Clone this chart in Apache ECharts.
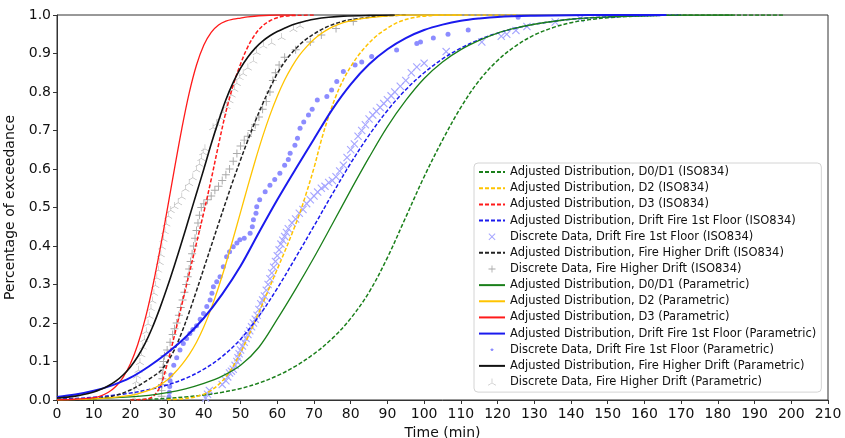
<!DOCTYPE html>
<html>
<head>
<meta charset="utf-8">
<script src="https://cdn.jsdelivr.net/npm/echarts@6/dist/echarts.min.js"></script>
<style>
  html, body { margin: 0; padding: 0; background: #fff; }
  #chart { width: 845px; height: 438px; }
</style>
</head>
<body>
<div id="chart"></div>
<script>
// ---- axis ticks ----
const xTicks = { min: 0, max: 210, step: 10 };
const yTicks = { min: 0, max: 1, step: 0.1 };

// ---- adjusted distributions (time in min, fraction exceeded) ----
const d01IsoT = [20, 25, 30, 35, 40, 45, 50, 55, 60, 65, 70, 75, 80, 85, 90, 95, 100, 105, 110, 115, 120, 125, 130, 135, 140, 145, 150, 155, 160, 170, 198];
const d01IsoV = [0, 0.002, 0.004, 0.008, 0.013, 0.02, 0.03, 0.044, 0.063, 0.088, 0.12, 0.16, 0.212, 0.28, 0.37, 0.475, 0.58, 0.675, 0.76, 0.83, 0.882, 0.92, 0.948, 0.967, 0.98, 0.988, 0.993, 0.996, 0.998, 1, 1];

const d2IsoT = [30, 36, 40, 42, 44, 46, 48, 50, 52, 54, 56, 58, 60, 62, 64, 66, 68, 70, 72, 74, 76, 78, 80, 82, 84, 86, 88, 90, 92, 94, 96, 100, 105, 125];
const d2IsoV = [0.001, 0.005, 0.015, 0.025, 0.04, 0.06, 0.088, 0.123, 0.163, 0.206, 0.25, 0.295, 0.34, 0.385, 0.432, 0.482, 0.54, 0.603, 0.675, 0.737, 0.79, 0.832, 0.866, 0.894, 0.917, 0.937, 0.953, 0.966, 0.977, 0.985, 0.991, 0.997, 1, 1];

const d3IsoT = [20, 24, 26, 28, 30, 32, 34, 36, 38, 40, 42, 44, 46, 48, 50, 52, 54, 56, 58, 60, 62, 65, 70];
const d3IsoV = [0, 0.002, 0.008, 0.033, 0.093, 0.168, 0.248, 0.328, 0.408, 0.488, 0.573, 0.663, 0.748, 0.818, 0.873, 0.918, 0.95, 0.972, 0.985, 0.993, 0.997, 0.999, 1];

const driftIsoT = [0, 5, 10, 15, 20, 25, 30, 35, 40, 45, 50, 55, 60, 65, 70, 75, 80, 85, 90, 95, 100, 105, 110, 115, 120, 125, 130, 140, 150, 160, 170];
const driftIsoV = [0.002, 0.004, 0.007, 0.012, 0.018, 0.027, 0.039, 0.056, 0.08, 0.113, 0.158, 0.218, 0.29, 0.37, 0.452, 0.535, 0.615, 0.688, 0.752, 0.806, 0.85, 0.886, 0.914, 0.936, 0.953, 0.966, 0.976, 0.989, 0.995, 0.998, 1];

const higherIsoT = [0, 5, 10, 12, 14, 16, 18, 20, 22, 24, 26, 28, 30, 32, 34, 36, 38, 40, 42, 44, 46, 48, 50, 52, 54, 56, 58, 60, 62, 64, 66, 68, 70, 72, 74, 76, 78, 80, 84, 88, 95];
const higherIsoV = [0.0005, 0.001, 0.003, 0.005, 0.008, 0.012, 0.018, 0.026, 0.036, 0.048, 0.06, 0.074, 0.098, 0.131, 0.176, 0.228, 0.284, 0.342, 0.4, 0.458, 0.515, 0.571, 0.624, 0.675, 0.724, 0.769, 0.81, 0.848, 0.878, 0.902, 0.922, 0.938, 0.951, 0.962, 0.971, 0.978, 0.984, 0.988, 0.993, 0.997, 1];

const d01ParT = [0, 10, 20, 25, 30, 35, 40, 45, 50, 55, 60, 65, 70, 75, 80, 85, 90, 95, 100, 105, 110, 115, 120, 125, 130, 140, 150, 160, 170, 184];
const d01ParV = [0.0005, 0.003, 0.008, 0.012, 0.019, 0.029, 0.043, 0.062, 0.09, 0.137, 0.21, 0.288, 0.37, 0.457, 0.545, 0.63, 0.71, 0.778, 0.835, 0.878, 0.91, 0.934, 0.953, 0.966, 0.976, 0.989, 0.995, 0.998, 0.9995, 1];

const d2ParT = [0, 10, 15, 20, 22, 24, 26, 28, 30, 32, 34, 36, 38, 40, 42, 44, 46, 48, 50, 52, 54, 56, 58, 60, 62, 64, 66, 68, 70, 72, 74, 76, 78, 80, 84, 88, 95, 110];
const d2ParV = [0.0005, 0.003, 0.006, 0.012, 0.016, 0.022, 0.029, 0.039, 0.052, 0.07, 0.092, 0.118, 0.15, 0.19, 0.238, 0.293, 0.354, 0.42, 0.488, 0.556, 0.622, 0.684, 0.74, 0.789, 0.831, 0.866, 0.895, 0.918, 0.937, 0.952, 0.964, 0.973, 0.98, 0.985, 0.992, 0.996, 1, 1];

const d3ParT = [0, 5, 10, 12, 14, 16, 18, 20, 22, 24, 26, 28, 30, 32, 34, 36, 38, 40, 42, 44, 46, 48, 50, 52, 55, 60, 65];
const d3ParV = [0.0005, 0.002, 0.006, 0.011, 0.02, 0.035, 0.059, 0.094, 0.144, 0.21, 0.292, 0.388, 0.493, 0.601, 0.705, 0.797, 0.87, 0.922, 0.955, 0.974, 0.984, 0.989, 0.992, 0.995, 0.998, 1, 1];

const driftParT = [0, 5, 10, 15, 20, 25, 30, 35, 40, 45, 50, 55, 60, 65, 70, 75, 80, 85, 90, 95, 100, 105, 110, 115, 120, 130, 140, 150, 166];
const driftParV = [0.008, 0.014, 0.024, 0.038, 0.058, 0.087, 0.122, 0.163, 0.213, 0.275, 0.348, 0.435, 0.52, 0.6, 0.678, 0.755, 0.82, 0.872, 0.911, 0.94, 0.961, 0.975, 0.985, 0.991, 0.995, 0.998, 0.9995, 1, 1];

const higherParT = [0, 5, 10, 12, 14, 16, 18, 20, 22, 24, 26, 28, 30, 32, 34, 36, 38, 40, 42, 44, 46, 48, 50, 52, 54, 56, 58, 60, 62, 64, 66, 68, 70, 74, 78, 85, 92];
const higherParV = [0.005, 0.01, 0.021, 0.028, 0.037, 0.049, 0.065, 0.086, 0.113, 0.147, 0.189, 0.238, 0.292, 0.35, 0.411, 0.474, 0.537, 0.6, 0.665, 0.725, 0.78, 0.825, 0.862, 0.891, 0.914, 0.932, 0.946, 0.957, 0.966, 0.974, 0.98, 0.985, 0.989, 0.994, 0.997, 0.999, 1];

// ---- discrete observations [time, fraction] ----
const driftIsoPts = [
  [40.5,0.005],[41,0.015],[41.5,0.025],[45,0.04],[46,0.05],[46.5,0.06],[47,0.07],[47.5,0.075],[48,0.08],[48.5,0.09],
  [49,0.1],[49.3,0.11],[49.6,0.12],[50,0.13],[50.5,0.14],[51,0.15],[51.5,0.16],[52,0.17],[52.5,0.18],[53,0.19],
  [53.5,0.2],[54,0.21],[54.5,0.22],[55,0.235],[55.5,0.25],[56,0.26],[56.5,0.27],[57,0.285],[57.5,0.3],[58,0.315],
  [58.5,0.33],[59,0.345],[59.5,0.36],[60,0.375],[60.5,0.39],[61,0.405],[61.5,0.415],[62,0.425],[62.5,0.435],[63,0.445],
  [64,0.46],[65,0.47],[66,0.485],[67,0.495],[68,0.51],[69,0.52],[70,0.53],[71,0.54],[72,0.55],[73,0.555],
  [74,0.565],[75,0.57],[76,0.58],[77,0.595],[78,0.61],[79,0.63],[80,0.65],[81,0.665],[82,0.685],[83,0.7],
  [84,0.715],[85,0.73],[86,0.74],[87,0.75],[88,0.76],[89,0.77],[90,0.78],[91,0.79],[92,0.8],[93.5,0.815],
  [95,0.83],[96.5,0.85],[98,0.865],[100,0.875],[106,0.905],[115.7,0.93],[121,0.945],[122.5,0.95],[125,0.96],[128,0.97],
  [135.7,0.982],[142.5,0.991]
];

const driftParPts = [
  [30.5,0.008],[30.6,0.02],[30.7,0.035],[30.8,0.05],[31,0.065],[31.8,0.09],[32.6,0.11],[33.5,0.13],[34.4,0.147],[35.3,0.16],
  [36.2,0.173],[37,0.183],[38,0.193],[39,0.21],[39.9,0.225],[40.8,0.243],[41.7,0.26],[42.2,0.277],[42.6,0.294],[43.5,0.307],
  [44.4,0.32],[45.3,0.346],[46.2,0.372],[47,0.385],[48,0.398],[49,0.408],[49.8,0.416],[51,0.42],[52.6,0.433],[53.2,0.45],
  [53.5,0.468],[54.2,0.485],[54.4,0.502],[55.2,0.52],[56.7,0.541],[58,0.558],[59.3,0.573],[60.7,0.589],[62,0.61],[63,0.625],
  [63.5,0.641],[64.8,0.662],[65.5,0.68],[66.2,0.706],[67.2,0.722],[68.5,0.74],[69.5,0.755],[70.9,0.779],[73.5,0.788],[74.8,0.805],
  [76.2,0.827],[78,0.853],[81.2,0.87],[83,0.878],[85.7,0.892],[92.5,0.909],[98,0.926],[99,0.93],[102.5,0.94],[106.5,0.95],
  [112,0.961],[125.6,0.994]
];

const higherIsoPts = [
  [28.5,0.01],[28.5,0.025],[28.6,0.04],[28.7,0.055],[28.8,0.07],[28.9,0.085],[29,0.1],[29.3,0.115],[30,0.13],[30.8,0.15],
  [31.5,0.17],[32,0.185],[32.6,0.2],[33.2,0.22],[33.7,0.24],[34.2,0.26],[34.7,0.28],[35.2,0.3],[35.6,0.32],[36,0.34],
  [36.4,0.36],[36.8,0.38],[37.2,0.4],[37.6,0.42],[38,0.44],[38.4,0.46],[38.8,0.48],[39.3,0.5],[40,0.51],[41,0.52],
  [42,0.53],[43,0.545],[44,0.555],[45,0.57],[46,0.585],[47,0.6],[48,0.62],[49,0.64],[50,0.66],[51,0.675],
  [52,0.685],[53,0.7],[54,0.715],[55,0.735],[56,0.755],[57,0.775],[58,0.8],[58.8,0.83],[59.5,0.85],[60.5,0.87],
  [62,0.89],[65,0.91],[69,0.93],[72,0.948],[76,0.965],[80.7,0.983]
];

const higherParPts = [
  [21,0.008],[21.2,0.02],[21.4,0.035],[21.6,0.05],[21.8,0.065],[22.2,0.08],[22.6,0.1],[23,0.12],[23.4,0.14],[23.8,0.16],
  [24.3,0.18],[24.8,0.2],[25.2,0.22],[25.6,0.24],[26,0.26],[26.4,0.28],[26.8,0.3],[27.2,0.32],[27.6,0.34],[28,0.36],
  [28.3,0.38],[28.6,0.4],[29,0.42],[29.4,0.44],[29.8,0.46],[30.3,0.48],[31,0.495],[32,0.505],[33,0.515],[34,0.53],
  [35,0.55],[36,0.565],[37,0.58],[38,0.6],[38.8,0.615],[39.3,0.63],[39.8,0.645],[40.3,0.655],[42.5,0.71],[43.5,0.72],
  [44.5,0.735],[45.3,0.75],[46.2,0.765],[47,0.78],[47.6,0.795],[48.3,0.81],[49,0.825],[49.8,0.84],[50.7,0.85],[52,0.865],
  [53.5,0.883],[54.4,0.905],[56.2,0.922],[58.5,0.93],[61.2,0.944],[64.4,0.965],[66.2,0.974]
];

// ---- series names ----
const names = [
  'Adjusted Distribution, D0/D1 (ISO834)',
  'Adjusted Distribution, D2 (ISO834)',
  'Adjusted Distribution, D3 (ISO834)',
  'Adjusted Distribution, Drift Fire 1st Floor (ISO834)',
  'Discrete Data, Drift Fire 1st Floor (ISO834)',
  'Adjusted Distribution, Fire Higher Drift (ISO834)',
  'Discrete Data, Fire Higher Drift (ISO834)',
  'Adjusted Distribution, D0/D1 (Parametric)',
  'Adjusted Distribution, D2 (Parametric)',
  'Adjusted Distribution, D3 (Parametric)',
  'Adjusted Distribution, Drift Fire 1st Floor (Parametric)',
  'Discrete Data, Drift Fire 1st Floor (Parametric)',
  'Adjusted Distribution, Fire Higher Drift (Parametric)',
  'Discrete Data, Fire Higher Drift (Parametric)'
];

// marker shapes
const crossMark = 'path://M0,0.1L0.1,0L0.5,0.4L0.9,0L1,0.1L0.6,0.5L1,0.9L0.9,1L0.5,0.6L0.1,1L0,0.9L0.4,0.5Z';
const plusMark = 'path://M0.44,0H0.56V0.44H1V0.56H0.56V1H0.44V0.56H0V0.44H0.44Z';
const triMark = 'path://M47,0L53,0L53,48.3L94.5,72.4L91.5,77.6L50,53.5L8.5,77.6L5.5,72.4L47,48.3Z';
// small dot inside a wider box, for the legend key
const legendDot = 'path://M0,0M10,10M4.2,3.2L5.8,3.2L6.8,4.2L6.8,5.8L5.8,6.8L4.2,6.8L3.2,5.8L3.2,4.2Z';

const zip = (t, v) => t.map((x, i) => [x, v[i]]);
const FONT = 'DejaVu Sans';

function curve(name, t, v, color, width, dashed) {
  return {
    name, type: 'line', data: zip(t, v),
    symbol: 'none', showSymbol: false,
    smooth: 0.35,
    lineStyle: { color, width, type: dashed ? [4, 2] : 'solid' },
    itemStyle: { color },
    emphasis: { disabled: true }, silent: true, animation: false
  };
}
function dots(name, data, symbol, size, color) {
  return {
    name, type: 'scatter', data, symbol, symbolSize: size,
    itemStyle: { color, opacity: 1 },
    emphasis: { disabled: true }, silent: true, animation: false
  };
}

const series = [
  curve(names[0], d01IsoT, d01IsoV, '#1a7f1a', 1.5, true),
  curve(names[1], d2IsoT, d2IsoV, '#ffc400', 1.5, true),
  curve(names[2], d3IsoT, d3IsoV, '#ff1a1a', 1.5, true),
  curve(names[3], driftIsoT, driftIsoV, '#1a1aee', 1.5, true),
  dots(names[4], driftIsoPts, crossMark, 8, '#a6a6ff'),
  curve(names[5], higherIsoT, higherIsoV, '#222222', 1.5, true),
  dots(names[6], higherIsoPts, plusMark, 8, '#a9a9a9'),
  curve(names[7], d01ParT, d01ParV, '#1a7f1a', 1.3, false),
  curve(names[8], d2ParT, d2ParV, '#ffc400', 1.3, false),
  curve(names[9], d3ParT, d3ParV, '#ff1a1a', 1.3, false),
  curve(names[10], driftParT, driftParV, '#1a1aee', 2, false),
  dots(names[11], driftParPts, 'circle', 5, '#8c8cff'),
  curve(names[12], higherParT, higherParV, '#111111', 1.6, false),
  dots(names[13], higherParPts, triMark, [8, 7], '#b0b0b0')
];

// legend entries: line keys without the marker, small dot key for the dot series
const legendData = names.map((name, i) => {
  const s = series[i];
  if (s.type === 'line') return { name, itemStyle: { opacity: 0, color: 'rgba(0,0,0,0)', borderWidth: 0 } };
  if (s.symbol === 'circle') return { name, icon: legendDot };
  return { name };
});

const chart = echarts.init(document.getElementById('chart'), null, { renderer: 'canvas' });
chart.setOption({
  animation: false,
  backgroundColor: '#ffffff',
  textStyle: { fontFamily: FONT },
  grid: {
    left: 57, right: 17, top: 15, bottom: 38,
    containLabel: false, outerBoundsMode: 'none',
    show: true, borderColor: '#333', borderWidth: 1, backgroundColor: 'transparent'
  },
  xAxis: {
    type: 'value', min: xTicks.min, max: xTicks.max, interval: xTicks.step,
    name: 'Time (min)', nameLocation: 'middle', nameGap: 13,
    nameTextStyle: { fontFamily: FONT, fontSize: 14, color: '#111' },
    axisLine: { show: true, onZero: false, lineStyle: { color: '#333', width: 1 } },
    axisTick: { show: true, inside: false, length: 4, lineStyle: { color: '#333' } },
    axisLabel: { fontFamily: FONT, fontSize: 14, color: '#111', margin: 7 },
    splitLine: { show: false }
  },
  yAxis: {
    type: 'value', min: yTicks.min, max: yTicks.max, interval: yTicks.step,
    name: 'Percentage of exceedance', nameLocation: 'middle', nameGap: 31, nameRotate: 90,
    nameTextStyle: { fontFamily: FONT, fontSize: 14, color: '#111' },
    axisLine: { show: true, onZero: false, lineStyle: { color: '#333', width: 1 } },
    axisTick: { show: true, inside: false, length: 4, lineStyle: { color: '#333' } },
    axisLabel: { fontFamily: FONT, fontSize: 14, color: '#111', margin: 6, formatter: v => v.toFixed(1) },
    splitLine: { show: false }
  },
  legend: {
    data: legendData, orient: 'vertical', left: 474, top: 163,
    padding: [2, 5, 3, 4], itemGap: 2, itemWidth: 26, itemHeight: 7,
    backgroundColor: '#fff', borderColor: '#d4d4d4', borderWidth: 1, borderRadius: 4,
    textStyle: { fontFamily: FONT, fontSize: 11.5, color: '#111', lineHeight: 14.15 },
    selectedMode: false
  },
  series
});
</script>
</body>
</html>
